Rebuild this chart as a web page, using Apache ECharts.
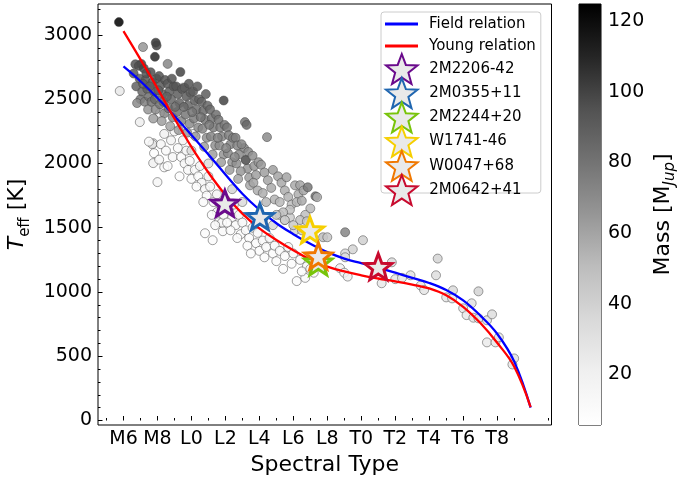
<!DOCTYPE html>
<html>
<head>
<meta charset="utf-8">
<script src="https://cdn.jsdelivr.net/npm/echarts@6/dist/echarts.min.js"></script>
<style>
  html, body { margin: 0; padding: 0; background: #fff; }
  #chart { width: 698px; height: 479px; }
</style>
</head>
<body>
<div id="chart"></div>
<script>
// spectral type as number: M0 = 0, L0 = 10, T0 = 20
var tickTypes = [6, 8, 10, 12, 14, 16, 18, 20, 22, 24, 26, 28];
var tickNames = ['M6', 'M8', 'L0', 'L2', 'L4', 'L6', 'L8', 'T0', 'T2', 'T4', 'T6', 'T8'];
var minorTypes = [5, 7, 9, 11, 13, 15, 17, 19, 21, 23, 25, 27, 29, 31];
var teffTicks = [0, 500, 1000, 1500, 2000, 2500, 3000];
var teffMinor = [100, 200, 300, 400, 600, 700, 800, 900, 1100, 1200, 1300, 1400, 1600, 1700, 1800, 1900,
  2100, 2200, 2300, 2400, 2600, 2700, 2800, 2900, 3100, 3200];
var massTicks = [20, 40, 60, 80, 100, 120];
var massMin = 5.7;
var massMax = 124.8;

// relations (Teff vs SpT)
var relationSpt = [6, 7, 8, 9, 10, 11, 12, 13, 14, 15, 16, 17, 18, 19, 20, 21, 22, 23, 24, 25, 26, 27, 28, 29, 29.97];
var fieldTeff = [2755, 2640, 2510, 2370, 2222, 2070, 1915, 1765, 1640, 1535, 1450, 1375, 1310, 1260, 1225, 1190,
  1150, 1110, 1070, 1015, 935, 818, 675, 460, 100];
var youngTeff = [3030, 2810, 2585, 2350, 2130, 1930, 1755, 1610, 1495, 1405, 1325, 1252, 1198, 1160, 1130, 1105,
  1083, 1058, 1028, 975, 885, 760, 605, 420, 105];

// highlighted objects
var starNames = ['2M2206-42', '2M0355+11', '2M2244+20', 'W1741-46', 'W0047+68', '2M0642+41'];
var starSpt = [11.97, 14.03, 17.47, 16.98, 17.47, 21.0];
var starTeff = [1690, 1586, 1233, 1482, 1280, 1197];
var starColors = ['#6a0a8c', '#1f66b0', '#78c40a', '#f6cf00', '#f07800', '#c80a2e'];

// sample [spt, teff, mass]
var darkPoints = [
  [5.73, 3100, 124.8], [7.15, 2906, 65], [7.9, 2940, 105], [7.95, 2918, 100], [7.85, 2830, 110], [6.7, 2772, 95],
  [7.05, 2775, 100],
  [6.6, 2700, 92], [6.75, 2600, 88], [6.9, 2760, 96], [7.0, 2500, 80], [6.8, 2470, 70], [6.95, 2660, 90], [7.1, 2560, 85],
  [7.2, 2740, 98], [7.3, 2650, 92], [7.4, 2580, 88], [7.25, 2480, 75], [7.45, 2420, 65], [7.35, 2700, 95],
  [7.15, 2620, 90], [7.5, 2520, 82],
  [7.6, 2710, 96], [7.7, 2630, 92], [7.8, 2560, 88], [7.65, 2480, 80], [7.9, 2420, 70], [7.75, 2350, 62],
  [7.95, 2660, 95], [7.55, 2600, 90], [7.85, 2500, 85],
  [8.1, 2680, 95], [8.2, 2610, 92], [8.3, 2540, 88], [8.15, 2460, 80], [8.4, 2390, 72], [8.25, 2330, 62],
  [8.45, 2650, 94], [8.05, 2570, 90], [8.35, 2480, 84], [8.6, 2775, 72],
  [8.6, 2620, 92], [8.7, 2560, 90], [8.8, 2500, 86], [8.65, 2430, 80], [8.9, 2360, 70], [8.75, 2290, 60],
  [8.95, 2600, 92], [8.55, 2520, 88], [8.85, 2660, 95],
  [9.1, 2600, 94], [9.2, 2540, 90], [9.3, 2470, 86], [9.15, 2400, 80], [9.4, 2330, 72], [9.25, 2260, 62],
  [9.45, 2580, 92], [9.05, 2440, 84], [9.35, 2712, 100],
  [9.6, 2590, 92], [9.7, 2520, 90], [9.8, 2450, 85], [9.65, 2380, 78], [9.9, 2310, 70], [9.75, 2240, 64],
  [9.95, 2550, 90], [9.55, 2440, 84], [9.85, 2620, 94],
  [10.1, 2560, 90], [10.2, 2490, 88], [10.3, 2420, 82], [10.15, 2350, 76], [10.4, 2280, 70], [10.25, 2210, 64],
  [10.45, 2500, 88], [10.05, 2400, 80], [10.35, 2600, 92],
  [10.6, 2480, 88], [10.7, 2410, 84], [10.8, 2340, 78], [10.65, 2270, 72], [10.9, 2200, 68], [10.75, 2130, 62],
  [10.95, 2450, 86], [10.55, 2360, 80], [10.85, 2540, 90],
  [11.1, 2420, 85], [11.2, 2350, 80], [11.3, 2280, 76], [11.15, 2210, 72], [11.4, 2140, 68], [11.25, 2070, 62],
  [11.45, 2380, 82], [11.05, 2300, 78],
  [11.6, 2340, 80], [11.7, 2280, 76], [11.8, 2210, 72], [11.65, 2140, 70], [11.9, 2070, 66], [11.75, 2010, 62],
  [11.95, 2300, 78], [11.55, 2200, 74], [11.9, 2490, 100],
  [12.1, 2280, 78], [12.2, 2220, 75], [12.3, 2150, 72], [12.15, 2080, 70], [12.4, 2010, 66], [12.25, 1950, 62],
  [12.45, 2200, 74], [12.05, 2120, 72],
  [12.6, 2200, 75], [12.7, 2140, 72], [12.8, 2070, 70], [12.65, 2000, 68], [12.9, 1940, 64], [12.75, 1880, 60],
  [12.95, 2150, 72], [12.55, 2050, 70]
];
var greyPoints = [
  [13.15, 2322, 80], [13.25, 2300, 85], [13.1, 2120, 72], [13.2, 2030, 70], [13.3, 1960, 66], [13.4, 1890, 62],
  [13.35, 2090, 70], [13.45, 1830, 58], [13.2, 2026, 90],
  [13.6, 2060, 68], [13.7, 1980, 65], [13.8, 1910, 62], [13.65, 1850, 60], [13.9, 1790, 56], [13.95, 2010, 66],
  [14.1, 1990, 64], [14.3, 1930, 62], [14.45, 2205, 70], [14.5, 1870, 60], [14.7, 1810, 58], [14.2, 1770, 56],
  [14.8, 1950, 62], [14.9, 1720, 54], [14.4, 1700, 52],
  [15.1, 1900, 60], [15.3, 1850, 58], [15.5, 1790, 56], [15.6, 1893, 60], [15.7, 1740, 54], [15.2, 1700, 52],
  [15.9, 1680, 50], [15.8, 1640, 48], [15.4, 1620, 50],
  [16.1, 1830, 58], [16.4, 1831, 60], [16.3, 1760, 56], [16.6, 1790, 60], [16.2, 1700, 54], [16.5, 1710, 58],
  [16.85, 1815, 78], [17.3, 1745, 82], [17.0, 1650, 52], [16.7, 1600, 50], [17.4, 1738, 56], [16.4, 1560, 48],
  [15.0, 1600, 45], [15.5, 1560, 42], [16.0, 1520, 44], [16.8, 1550, 46], [17.0, 1480, 48], [16.5, 1480, 44],
  [17.75, 1426, 50]
];
var palePoints = [
  [5.78, 2564, 25], [6.96, 2322, 22], [7.75, 2158, 18], [7.7, 2150, 30], [7.75, 2003, 20], [8.0, 1855, 15],
  [8.14, 2393, 15], [9.9, 2470, 20], [9.5, 2590, 22], [9.1, 2450, 18],
  [7.5, 2170, 12], [7.8, 2080, 10], [8.1, 2030, 14], [8.4, 1970, 12],
  [8.2, 2150, 15], [8.5, 2100, 12], [8.8, 2180, 18], [8.4, 2230, 20], [8.9, 2050, 14], [8.6, 1980, 10],
  [9.0, 2250, 16], [9.2, 2120, 12],
  [9.4, 2050, 10], [9.6, 2000, 14], [9.8, 1950, 12], [9.3, 1900, 8], [9.7, 2100, 16], [9.9, 2020, 11],
  [10.0, 1880, 10], [9.5, 2180, 18], [10.1, 2230, 22], [10.2, 1950, 12], [10.4, 1900, 10], [10.6, 1850, 14],
  [10.3, 1820, 9], [10.8, 1800, 12], [10.5, 1980, 16], [10.9, 1750, 10], [11.0, 1900, 18], [10.7, 1700, 11],
  [11.1, 1820, 13], [10.8, 1457, 10], [11.25, 1403, 9], [11.85, 1473, 12], [11.6, 1543, 14], [11.8, 1540, 12],
  [11.5, 1621, 15], [11.3, 1700, 12], [11.5, 1760, 16], [11.7, 1680, 11], [11.9, 1600, 13], [12.0, 1720, 18],
  [11.2, 1600, 10], [11.4, 1520, 11], [12.2, 1640, 12], [12.4, 1580, 10], [12.6, 1520, 13], [12.3, 1480, 9],
  [12.8, 1600, 16], [12.9, 1450, 11], [12.5, 1680, 18], [13.0, 1540, 14], [12.1, 1540, 10], [12.7, 1420, 10],
  [13.2, 1480, 12], [13.4, 1420, 10], [13.6, 1500, 15], [13.8, 1380, 11], [13.3, 1360, 9], [13.9, 1460, 13],
  [14.0, 1320, 10], [13.5, 1300, 9], [14.2, 1400, 12], [14.4, 1350, 11], [14.6, 1420, 15], [14.8, 1300, 10],
  [14.3, 1270, 9], [14.9, 1360, 13], [15.0, 1240, 10], [15.2, 1320, 12], [15.5, 1280, 11], [15.7, 1350, 14],
  [15.9, 1220, 10], [15.4, 1180, 9], [16.0, 1300, 13], [16.2, 1085, 10], [16.7, 1110, 11], [16.4, 1250, 12],
  [16.8, 1200, 13], [16.5, 1160, 10], [17.0, 1180, 14], [17.2, 1150, 12], [15.2, 1600, 38], [15.5, 1560, 40],
  [15.8, 1580, 42], [14.8, 1520, 36], [16.1, 1480, 38], [13.0, 1700, 35], [12.4, 1800, 38], [11.0, 2000, 32],
  [10.0, 2100, 35], [14.2, 1560, 34]
];
var tPoints = [
  [19.05, 1465, 72], [18.0, 1426, 45], [20.1, 1403, 40], [19.5, 1332, 38], [19.05, 1300, 35], [19.05, 1270, 32],
  [18.75, 1185, 20], [19.0, 1150, 18], [19.2, 1120, 22], [21.8, 1231, 35], [21.2, 1068, 25], [22.0, 1100, 28],
  [22.4, 1110, 25], [22.9, 1130, 30], [23.5, 1050, 26], [23.7, 1015, 28], [24.5, 1260, 38], [24.4, 1130, 32],
  [25.4, 1013, 34], [25.0, 958, 28], [25.35, 950, 26], [26.9, 1005, 38], [26.5, 912, 30], [26.0, 873, 28],
  [26.2, 820, 26], [26.6, 800, 27], [26.9, 795, 29], [27.4, 780, 28], [27.7, 826, 32], [27.4, 608, 24],
  [27.9, 608, 26], [28.1, 647, 28], [29.0, 483, 30], [28.9, 436, 27]
];

// matplotlib Greys
var greys = ['#ffffff', '#f0f0f0', '#d9d9d9', '#bdbdbd', '#969696', '#737373', '#525252', '#252525', '#000000'];
var FONT = 'DejaVu Sans';

function starPath(inner) {
  var pts = [];
  for (var k = 0; k < 10; k++) {
    var r = k % 2 === 0 ? 50 : 50 * inner;
    var a = Math.PI * (-90 + 36 * k) / 180;
    pts.push((50 + r * Math.cos(a)).toFixed(2) + ',' + (50 + r * Math.sin(a)).toFixed(2));
  }
  return 'path://M' + pts.join(' L') + ' Z';
}
var STAR = starPath(0.42);

function pairs(xs, ys) {
  var out = [];
  for (var i = 0; i < xs.length; i++) out.push([xs[i], ys[i]]);
  return out;
}

var series = [{
  type: 'scatter',
  xAxisIndex: 0, yAxisIndex: 0,
  data: palePoints.concat(greyPoints, darkPoints, tPoints),
  symbolSize: 9,
  itemStyle: { borderColor: '#444', borderWidth: 0.6, opacity: 0.85 },
  silent: true, z: 2
}, {
  name: 'Field relation', type: 'line',
  data: pairs(relationSpt, fieldTeff),
  showSymbol: false, smooth: 0.4,
  lineStyle: { color: '#0000ff', width: 2.3 },
  itemStyle: { color: '#0000ff' },
  silent: true, z: 3
}, {
  name: 'Young relation', type: 'line',
  data: pairs(relationSpt, youngTeff),
  showSymbol: false, smooth: 0.4,
  lineStyle: { color: '#ff0000', width: 2.3 },
  itemStyle: { color: '#ff0000' },
  silent: true, z: 3
}];

for (var i = 0; i < starNames.length; i++) {
  series.push({
    name: starNames[i], type: 'scatter',
    data: [[starSpt[i], starTeff[i]]],
    symbol: STAR, symbolSize: 27, symbolKeepAspect: true,
    itemStyle: { color: '#e9e9e9', borderColor: starColors[i], borderWidth: 3, opacity: 1 },
    silent: true, z: 5
  });
}

// colour bar drawn as a stacked bar in its own grid
series.push({
  type: 'bar', xAxisIndex: 2, yAxisIndex: 2, stack: 'cb',
  data: [massMin], barWidth: '100%',
  itemStyle: { color: 'rgba(0,0,0,0)' }, silent: true
}, {
  type: 'bar', xAxisIndex: 2, yAxisIndex: 2, stack: 'cb',
  data: [massMax - massMin], barWidth: '100%',
  itemStyle: {
    color: new echarts.graphic.LinearGradient(0, 1, 0, 0, greys.map(function (c, k) {
      return { offset: k / (greys.length - 1), color: c };
    }))
  },
  silent: true
});

var tickFont = { fontFamily: FONT, fontSize: 19, color: '#000' };

var option = {
  animation: false,
  backgroundColor: '#fff',
  textStyle: { fontFamily: FONT },
  grid: [
    { left: 98, right: 146.5, top: 4, bottom: 54, outerBoundsMode: 'none',
      show: true, borderColor: '#000', borderWidth: 1 },
    { left: 579, width: 22, top: 4, bottom: 54, outerBoundsMode: 'none',
      show: true, borderColor: '#000', borderWidth: 1 }
  ],
  xAxis: [{
    type: 'value', gridIndex: 0, position: 'bottom', min: 4.5, max: 31.2,
    axisLine: { show: false }, splitLine: { show: false },
    axisTick: { customValues: tickTypes, inside: true, length: 4.5, lineStyle: { color: '#000' } },
    axisLabel: Object.assign({
      customValues: tickTypes, margin: 5,
      formatter: function (v) { return tickNames[tickTypes.indexOf(v)]; }
    }, tickFont),
    name: 'Spectral Type', nameLocation: 'middle', nameGap: 29,
    nameTextStyle: { fontFamily: FONT, fontSize: 22, color: '#000' }
  }, {
    type: 'value', gridIndex: 0, position: 'bottom', min: 4.5, max: 31.2,
    axisLine: { show: false }, splitLine: { show: false }, axisLabel: { show: false },
    axisTick: { customValues: minorTypes, inside: true, length: 2.5, lineStyle: { color: '#000' } }
  }, {
    type: 'category', gridIndex: 1, data: ['mass'], show: false
  }],
  yAxis: [{
    type: 'value', gridIndex: 0, position: 'left', min: -35, max: 3241,
    axisLine: { show: false }, splitLine: { show: false },
    axisTick: { customValues: teffTicks, inside: true, length: 4.5, lineStyle: { color: '#000' } },
    axisLabel: Object.assign({
      customValues: teffTicks, margin: 6,
      formatter: function (v) { return String(v); }
    }, tickFont),
    name: '{i|T}{s|eff}{n| [K]}', nameLocation: 'middle', nameRotate: 90, nameGap: 53,
    nameTextStyle: {
      fontFamily: FONT, fontSize: 22, color: '#000',
      rich: {
        i: { fontFamily: FONT, fontSize: 22, fontStyle: 'italic', lineHeight: 30, color: '#000' },
        s: { fontFamily: FONT, fontSize: 15, lineHeight: 15, verticalAlign: 'bottom', color: '#000' },
        n: { fontFamily: FONT, fontSize: 22, lineHeight: 30, color: '#000' }
      }
    }
  }, {
    type: 'value', gridIndex: 0, position: 'left', min: -35, max: 3241,
    axisLine: { show: false }, splitLine: { show: false }, axisLabel: { show: false },
    axisTick: { customValues: teffMinor, inside: true, length: 2.5, lineStyle: { color: '#000' } }
  }, {
    type: 'value', gridIndex: 1, position: 'right', min: massMin, max: massMax,
    axisLine: { show: false }, splitLine: { show: false },
    axisTick: { customValues: massTicks, length: 5, lineStyle: { color: '#000' } },
    axisLabel: Object.assign({ customValues: massTicks, margin: 7 }, tickFont),
    name: '{n|Mass [M}{j|Jup}{n|]}', nameLocation: 'middle', nameRotate: 90, nameGap: 47,
    nameTextStyle: {
      fontFamily: FONT, fontSize: 22, color: '#000',
      rich: {
        n: { fontFamily: FONT, fontSize: 22, lineHeight: 30, color: '#000' },
        j: { fontFamily: FONT, fontSize: 15, fontStyle: 'italic', lineHeight: 15, verticalAlign: 'bottom', color: '#000' }
      }
    }
  }],
  visualMap: {
    show: false, type: 'continuous', seriesIndex: 0, dimension: 2,
    min: massMin, max: massMax, inRange: { color: greys }
  },
  legend: [{
    data: ['Field relation', 'Young relation'],
    orient: 'vertical', left: 381, top: 12,
    padding: [4.5, 5, 139.5, 4],
    itemWidth: 33, itemHeight: 3, itemGap: 7, icon: 'rect',
    backgroundColor: 'rgba(255,255,255,0.8)', borderColor: '#cccccc', borderWidth: 1, borderRadius: 3,
    selectedMode: false, z: 6,
    textStyle: { fontFamily: FONT, fontSize: 15, lineHeight: 15, color: '#000', padding: [0, 0, 0, 6] }
  }, {
    data: starNames,
    orient: 'vertical', left: 385, top: 53, padding: 0,
    itemWidth: 33, itemHeight: 30, itemGap: -7.8,
    selectedMode: false, z: 7,
    textStyle: { fontFamily: FONT, fontSize: 15, lineHeight: 15, color: '#000', padding: [0, 0, 0, 6] }
  }],
  series: series
};

var chart = echarts.init(document.getElementById('chart'), null, { renderer: 'canvas' });
chart.setOption(option);
</script>
</body>
</html>
